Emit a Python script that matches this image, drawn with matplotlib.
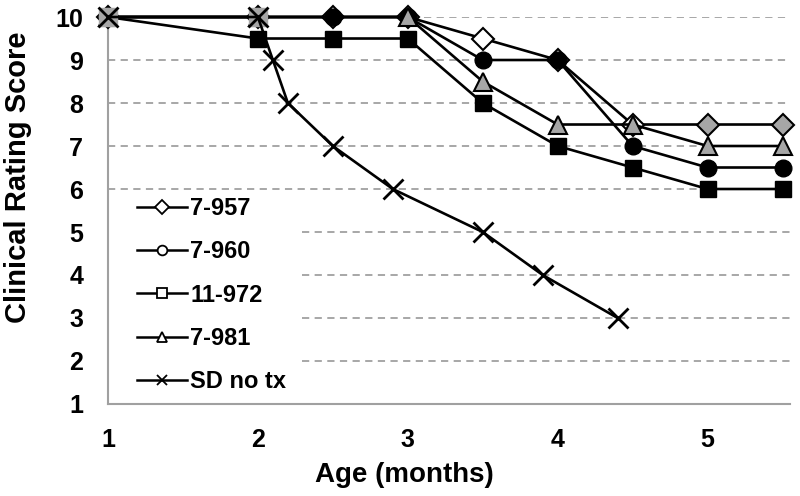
import matplotlib
matplotlib.use('Agg')
import matplotlib.pyplot as plt
from matplotlib.lines import Line2D

plt.rcParams['font.family'] = ['Liberation Sans', 'DejaVu Sans']
plt.rcParams['font.weight'] = 'bold'

# data
x_957 = [1, 2, 2.5, 3, 3.5, 4, 4.5, 5, 5.5]
y_957 = [10, 10, 10, 10, 9.5, 9, 7.5, 7.5, 7.5]
fill_957 = ['white', 'white', 'white', 'white', 'white', 'white', 'white', '#a6a6a6', '#a6a6a6']

x_960 = [1, 2, 2.5, 3, 3.5, 4, 4.5, 5, 5.5]
y_960 = [10, 10, 10, 10, 9, 9, 7, 6.5, 6.5]

x_972 = [1, 2, 2.5, 3, 3.5, 4, 4.5, 5, 5.5]
y_972 = [10, 9.5, 9.5, 9.5, 8, 7, 6.5, 6, 6]

x_981 = [1, 2, 3, 3.5, 4, 4.5, 5, 5.5]
y_981 = [10, 10, 10, 8.5, 7.5, 7.5, 7, 7]

x_sd = [1, 2, 2.1, 2.2, 2.5, 2.9, 3.5, 3.9, 4.4]
y_sd = [10, 10, 9, 8, 7, 6, 5, 4, 3]

labels = ['7-957', '7-960', '11-972', '7-981', 'SD no tx']
markers = ['D', 'o', 's', '^', 'x']
grid_levels = [2, 3, 4, 5, 6, 7, 8, 9, 10]

gray = '#a6a6a6'
lw = 1.9
ms = 12

fig = plt.figure(figsize=(8, 4.96), dpi=100)
ax = fig.add_axes([0.135, 0.1855, 0.8525, 0.7802])

# 7-957 diamonds (fill varies per point)
ax.plot(x_957, y_957, color='black', lw=lw, zorder=3, clip_on=False)
for xi, yi, fc in zip(x_957, y_957, fill_957):
    ax.plot(xi, yi, marker='D', ms=ms - 1, mfc=fc, mec='black', mew=1.5,
            zorder=3, clip_on=False)

ax.plot(x_960, y_960, color='black', lw=lw, marker='o', ms=ms, mfc='black',
        mec='black', zorder=4, clip_on=False)
ax.plot(x_972, y_972, color='black', lw=lw, marker='s', ms=ms, mfc='black',
        mec='black', zorder=5, clip_on=False)
ax.plot(x_981, y_981, color='black', lw=lw, marker='^', ms=ms + 1, mfc=gray,
        mec='black', mew=1.5, zorder=6, clip_on=False)

# SD no tx: first two points sit on gray squares
ax.plot(x_sd[:2], y_sd[:2], ls='none', marker='s', ms=ms + 1, mfc=gray,
        mec=gray, zorder=7, clip_on=False)
ax.plot(x_sd, y_sd, color='black', lw=lw, marker='x', ms=ms + 2, mew=2,
        mec='black', zorder=8, clip_on=False)

ax.set_xlim(1, 5.55)
ax.set_ylim(1, 10)
ax.set_xticks([1, 2, 3, 4, 5])
ax.set_yticks(range(1, 11))
ax.tick_params(length=0, labelsize=18)
ax.tick_params(axis='y', pad=18)
ax.tick_params(axis='x', pad=17)

# dashed grid; the lower lines stop short where the legend sits
for yv in grid_levels:
    start = 0.284 if yv <= 5 else 0
    ax.axhline(yv, xmin=start, color='#a0a0a0', lw=1.3, ls=(0, (4, 3)), zorder=1)

for s in ['top', 'right']:
    ax.spines[s].set_visible(False)
for s in ['left', 'bottom']:
    ax.spines[s].set_color('#a0a0a0')
    ax.spines[s].set_linewidth(1.5)

ax.set_xlabel('Age (months)', fontsize=20, fontweight='bold')
ax.xaxis.set_label_coords(0.435, -0.15)
ax.set_ylabel('Clinical Rating Score', fontsize=21, fontweight='bold')
ax.yaxis.set_label_coords(-0.112, 0.585)

handles = [Line2D([0], [0], color='black', lw=1.8, marker=m, ms=7,
                  mfc='white', mec='black', mew=1.3) for m in markers]
leg = ax.legend(handles, labels, loc='upper left', bbox_to_anchor=(0.0425, 0.535),
                frameon=False, fontsize=17, handlelength=2.1, labelspacing=0.86,
                borderpad=0, borderaxespad=0, handletextpad=0.15)

fig.savefig('out.png', dpi=100)
